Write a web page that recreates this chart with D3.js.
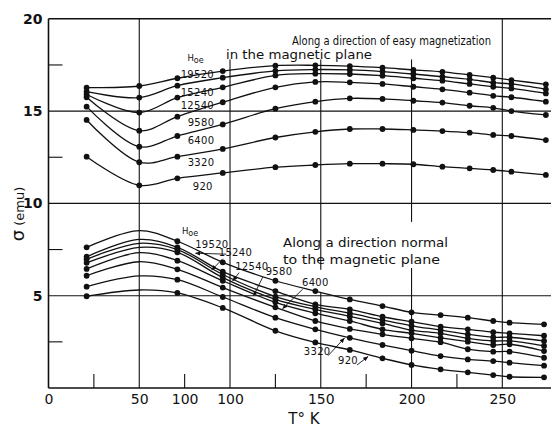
<!DOCTYPE html>
<html><head><meta charset="utf-8">
<script src="https://cdn.jsdelivr.net/npm/d3@7"></script>
<style>body{margin:0;background:#fff}svg{display:block}</style>
</head><body><svg id="c" width="551" height="428"></svg>
<script>
// ---------- data ----------
const fieldLabels = ["19520","15240","12540","9580","6400","3320","920"];

const upperTemps = [21, 50, 71, 96, 125, 147, 166, 184, 201, 217, 232, 245, 255, 274];
const upper19520 = [16.27,16.36,16.78,17.17,17.46,17.48,17.44,17.35,17.23,17.13,16.96,16.81,16.68,16.45];
const upper15240 = [16.05,15.73,16.38,16.81,17.18,17.25,17.23,17.14,17.01,16.86,16.72,16.54,16.47,16.18];
const upper12540 = [15.90,14.92,15.73,16.29,16.93,17.03,17.01,16.92,16.78,16.65,16.47,16.32,16.23,15.96];
const upper9580  = [15.75,13.94,14.70,15.48,16.29,16.58,16.56,16.47,16.32,16.18,16.00,15.83,15.75,15.51];
const upper6400  = [15.24,13.07,13.65,14.28,15.13,15.51,15.69,15.66,15.56,15.46,15.29,15.18,15.00,14.79];
const upper3320  = [14.52,12.23,12.53,12.95,13.57,13.88,14.03,14.03,13.98,13.92,13.83,13.71,13.65,13.43];
const upper920   = [12.53,10.98,11.36,11.65,11.96,12.08,12.15,12.15,12.12,11.99,11.90,11.81,11.72,11.54];

const lowerTemps = [21, 71, 96, 125, 147, 166, 184, 200, 216, 231, 245, 254, 273];
const lowerPeakT = 50;   // hand-drawn maximum of each curve (no measured point)
const lowerPeak = [8.52, 8.05, 7.84, 7.62, 7.33, 6.84, 6.07, 5.31];
const lowerC1 = [7.62,7.95,6.81,5.81,5.25,4.80,4.44,4.10,3.95,3.81,3.63,3.54,3.45];
const lowerC2 = [7.11,7.62,6.30,5.25,4.53,4.26,3.86,3.59,3.32,3.18,3.02,2.96,2.83];
const lowerC3 = [6.97,7.50,6.15,4.95,4.40,4.05,3.68,3.37,3.14,2.91,2.75,2.75,2.55];
const lowerC4 = [6.78,7.35,5.98,4.80,4.26,3.88,3.50,3.14,2.96,2.69,2.55,2.55,2.28];
const lowerC5 = [6.45,6.90,5.81,4.64,4.05,3.63,3.18,2.96,2.72,2.51,2.33,2.37,2.00];
const lowerC6 = [6.08,6.43,5.44,4.37,3.63,3.20,2.91,2.69,2.48,2.10,1.97,1.97,1.64];
const lowerC7 = [5.49,5.87,4.93,3.81,3.18,2.72,2.33,2.02,1.73,1.55,1.46,1.37,1.21];
const lowerC8 = [4.97,5.15,4.34,3.10,2.47,2.06,1.61,1.25,1.01,0.85,0.70,0.61,0.58];

const xTickValues = [0, 50, 75, 100, 150, 200, 250];
const xTickLabels = ["0", "50", "100", "100", "150", "200", "250"];
const xMinorTicks = [25, 75, 125, 175, 225];
const yTickValues = [5, 10, 15, 20];
const yMinorTicks = [2.5, 7.5, 12.5, 17.5];

const upperSeries = [upper19520, upper15240, upper12540, upper9580, upper6400, upper3320, upper920];
const lowerSeries = [lowerC1, lowerC2, lowerC3, lowerC4, lowerC5, lowerC6, lowerC7, lowerC8];

// ---------- drawing ----------
const svg = d3.select("#c");
const W = 551, H = 428;
const x = d3.scaleLinear().domain([0, 250]).range([48.5, 502.3]);
const y = d3.scaleLinear().domain([0, 20]).range([388, 18.8]);
const ink = "#111";
const font = "'DejaVu Sans', sans-serif";

svg.append("rect").attr("width", W).attr("height", H).attr("fill", "#fff");

const g = svg.append("g");
g.append("line").attr("x1", x(0)).attr("x2", x(0)).attr("y1", y(20)).attr("y2", y(0)).attr("stroke", ink).attr("stroke-width", 1.6);
g.append("line").attr("x1", x(0)).attr("x2", W).attr("y1", y(0)).attr("y2", y(0)).attr("stroke", ink).attr("stroke-width", 1.6);
g.append("line").attr("x1", x(0)).attr("x2", W).attr("y1", y(20)).attr("y2", y(20)).attr("stroke", ink).attr("stroke-width", 1.4);

[5, 10, 15].forEach(v => g.append("line").attr("x1", x(0)).attr("x2", W).attr("y1", y(v)).attr("y2", y(v)).attr("stroke", ink).attr("stroke-width", 1.1));
const vSegs = [[50, 0, 20], [100, 0, 17.8], [150, 6.4, 17.8], [150, 0, 5.2], [200, 0, 6.5], [200, 9.0, 17.8], [250, 0, 20]];
vSegs.forEach(([t, a, b]) => g.append("line").attr("x1", x(t)).attr("x2", x(t)).attr("y1", y(a)).attr("y2", y(b)).attr("stroke", ink).attr("stroke-width", 1.1));
xMinorTicks.forEach(t => g.append("line").attr("x1", x(t)).attr("x2", x(t)).attr("y1", y(0)).attr("y2", y(0) - 14).attr("stroke", ink).attr("stroke-width", 1.1));
yMinorTicks.forEach(v => g.append("line").attr("x1", x(0)).attr("x2", x(0) + 14).attr("y1", y(v)).attr("y2", y(v)).attr("stroke", ink).attr("stroke-width", 1.1));

const xAxis = d3.axisBottom(x).tickValues(xTickValues).tickSize(0).tickPadding(6)
  .tickFormat((d, i) => xTickLabels[i]);
const xa = svg.append("g").attr("transform", `translate(0,${y(0)})`).call(xAxis);
xa.select(".domain").remove();
xa.selectAll("text").attr("font-family", font).attr("font-size", 14).attr("fill", ink);

const yAxis = d3.axisLeft(y).tickValues(yTickValues).tickSize(0).tickPadding(6).tickFormat(d3.format("d"));
const ya = svg.append("g").attr("transform", `translate(${x(0)},0)`).call(yAxis);
ya.select(".domain").remove();
ya.selectAll("text").attr("font-family", font).attr("font-size", 14).attr("font-weight", "bold").attr("fill", ink);

svg.append("text").attr("x", 304).attr("y", 424).attr("text-anchor", "middle")
  .attr("font-family", font).attr("font-size", 15).attr("fill", ink).text("T° K");
svg.append("text").attr("transform", "translate(24,214) rotate(-90)").attr("text-anchor", "middle")
  .attr("font-family", font).attr("font-size", 13).attr("fill", ink)
  .call(t => { t.append("tspan").attr("font-size", 18).text("σ"); t.append("tspan").text(" (emu)"); });

const line = d3.line().x(d => x(d[0])).y(d => y(d[1])).curve(d3.curveCatmullRom.alpha(0.5));
const curves = svg.append("g");
upperSeries.forEach(s => {
  const pts = upperTemps.map((t, i) => [t, s[i]]);
  curves.append("path").attr("d", line(pts)).attr("fill", "none").attr("stroke", ink).attr("stroke-width", 1.3);
  curves.selectAll(null).data(pts).enter().append("circle")
    .attr("cx", d => x(d[0])).attr("cy", d => y(d[1])).attr("r", 2.9).attr("fill", ink);
});
lowerSeries.forEach((s, k) => {
  const pts = lowerTemps.map((t, i) => [t, s[i]]);
  const linePts = [pts[0], [lowerPeakT, lowerPeak[k]], ...pts.slice(1)];
  curves.append("path").attr("d", line(linePts)).attr("fill", "none").attr("stroke", ink).attr("stroke-width", 1.3);
  curves.selectAll(null).data(pts).enter().append("circle")
    .attr("cx", d => x(d[0])).attr("cy", d => y(d[1])).attr("r", 2.9).attr("fill", ink);
});

// lettering (width fitted with textLength)
const block = (px, py, s, len, size) => svg.append("text").attr("x", px).attr("y", py)
  .attr("font-family", font).attr("font-size", size).attr("fill", ink)
  .attr("textLength", len).attr("lengthAdjust", "spacingAndGlyphs").text(s);
block(292, 45, "Along a direction of easy magnetization", 199, 12);
block(226, 59, "in the magnetic plane", 146, 12);
block(283, 247, "Along a direction normal", 165, 12);
block(283, 264, "to the magnetic plane", 157, 12);

const small = (px, py, s) => svg.append("text").attr("x", px).attr("y", py)
  .attr("font-family", font).attr("font-size", 10).attr("fill", ink)
  .attr("text-anchor", "middle").attr("letter-spacing", 0.3).text(s);
const hoe = (px, py) => {
  const t = svg.append("text").attr("x", px).attr("y", py).attr("font-family", font).attr("font-size", 8.5).attr("fill", ink).attr("text-anchor", "middle");
  t.append("tspan").text("H"); t.append("tspan").attr("font-size", 8).attr("dy", 2).text("oe");
};
const upperLabelT = [82, 82, 82, 84, 84, 84, 85];
const upperLabelS = [16.8, 15.8, 15.1, 14.2, 13.2, 12.0, 10.7];
hoe(x(81), y(17.7));
fieldLabels.forEach((f, i) => small(x(upperLabelT[i]), y(upperLabelS[i]), f));

const lowerLabelT = [90, 103, 112, 127, 147, 148, 165];
const lowerLabelS = [7.6, 7.15, 6.4, 6.1, 5.5, 1.8, 1.3];
const arrowFrom = [[98, 7.25], [96, 7.0], [105, 6.25], [118, 6.0], [140, 5.35], [154, 1.75], [170, 1.25]];
const arrowTo = [[81, 7.3], [90, 6.4], [101.5, 5.8], [113, 5.0], [129, 4.3], [163, 2.7], [176, 1.7]];
hoe(x(78), y(8.35));
const defs = svg.append("defs");
defs.append("marker").attr("id", "ah").attr("viewBox", "0 0 10 10").attr("refX", 9).attr("refY", 5)
  .attr("markerWidth", 6).attr("markerHeight", 6).attr("orient", "auto")
  .append("path").attr("d", "M0,1 L10,5 L0,9 z").attr("fill", ink);
fieldLabels.forEach((f, i) => {
  small(x(lowerLabelT[i]), y(lowerLabelS[i]), f);
  svg.append("line").attr("x1", x(arrowFrom[i][0])).attr("y1", y(arrowFrom[i][1]))
    .attr("x2", x(arrowTo[i][0])).attr("y2", y(arrowTo[i][1]))
    .attr("stroke", ink).attr("stroke-width", 0.9).attr("marker-end", "url(#ah)");
});
</script></body></html>
